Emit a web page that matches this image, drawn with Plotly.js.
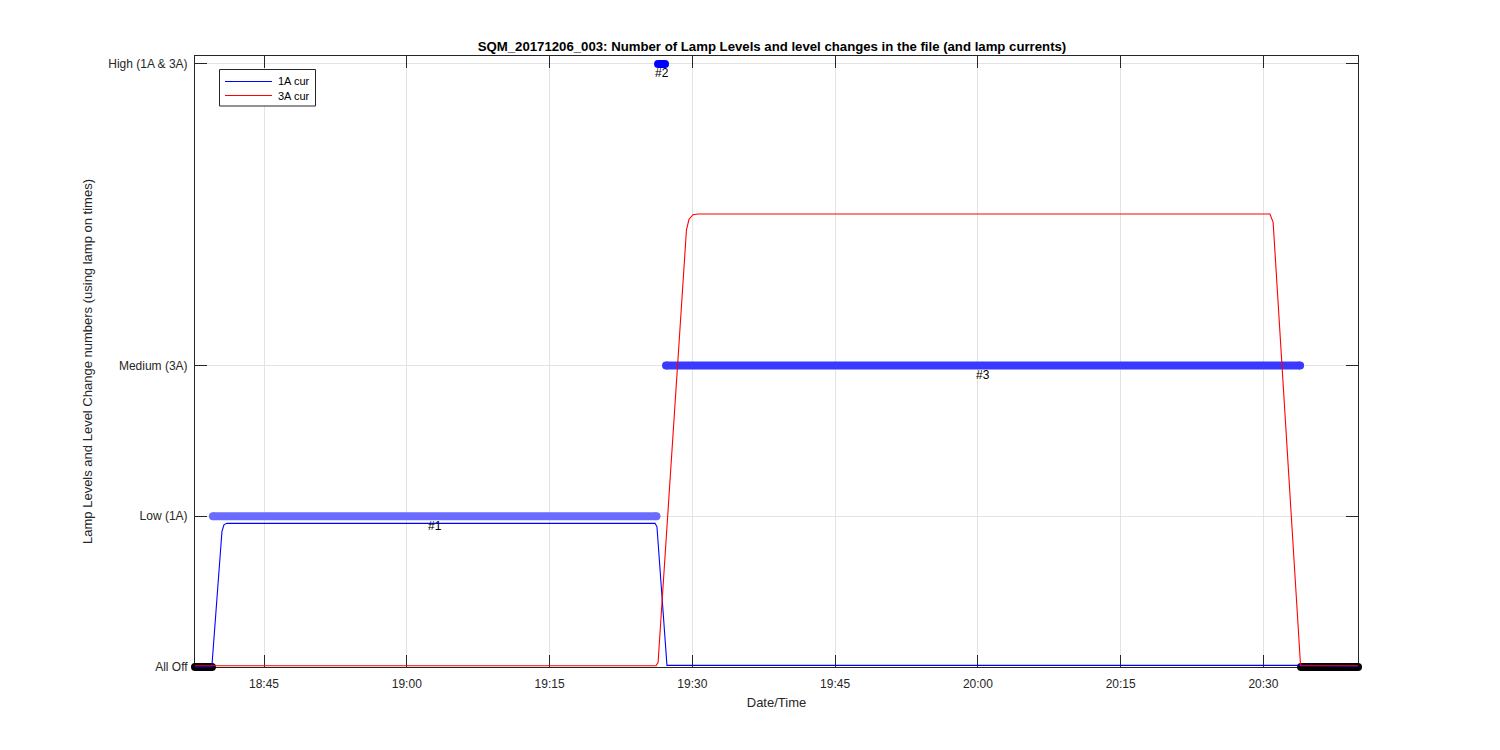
<!DOCTYPE html>
<html>
<head>
<meta charset="utf-8">
<script src="https://cdn.plot.ly/plotly-3.0.1.min.js"></script>
<style>html,body{margin:0;padding:0;background:#fff;}#chart{width:1500px;height:750px;}</style>
</head>
<body>
<div id="chart"></div>
<script>
const day = '2017-12-06 ';
const levelValues = [0, 1, 2, 4];
const levelNames = ['All Off', 'Low (1A)', 'Medium (3A)', 'High (1A & 3A)'];
const xTickTimes = ['18:45','19:00','19:15','19:30','19:45','20:00','20:15','20:30'];

// lamp level segments (from lamp on times)
const segStart = ['18:37:45','18:39:38','19:26:24','19:27:14','20:33:57'];
const segEnd   = ['18:39:32','19:26:14','19:27:08','20:33:51','20:39:56'];
const segLevel = [0, 1, 4, 2, 0];
const segLabel = ['', '#1', '#2', '#3', ''];

// lamp currents
const cur1Times = ['18:37:45','18:39:31','18:40:35','18:40:48','18:41:07','19:26:05','19:26:17','19:27:20','20:33:54','20:39:56'];
const cur1Vals  = [0.0, 0.0, 0.90, 0.945, 0.953, 0.953, 0.93, 0.011, 0.011, 0.006];
const cur3Times = ['18:37:45','19:26:11','19:26:24','19:29:23','19:29:39','19:30:04','19:30:36','20:30:41','20:31:01','20:33:54','20:39:56'];
const cur3Vals  = [0.008, 0.008, 0.03, 2.9, 2.97, 3.0, 3.005, 3.005, 2.95, 0.008, 0.008];
const curNames  = ['1A cur', '3A cur'];

const xRange = ['18:37:45', '20:39:56'];
const yRange = [0, 4.053];

// ---- styling / geometry ----
const segColors = ['#000000', '#6b6bff', '#0000ff', '#3a3aff', '#000000'];
const curColors = ['#0000ff', '#ff0000'];
const font = 'Liberation Sans, Arial, Helvetica, sans-serif';
const W = 1500, H = 750;
const M = {l: 185, r: 132, t: 46, b: 73};   // paper area (10px bigger than axes box on each side)
const PAD = 10;
const pw = W - M.l - M.r, ph = H - M.t - M.b;
const axW = pw - 2 * PAD, axH = ph - 2 * PAD;

const toT = t => day + t;
const ms = s => new Date(s.replace(' ', 'T')).getTime();
const pad2 = n => String(n).padStart(2, '0');
const fmt = d => d.getFullYear() + '-' + pad2(d.getMonth() + 1) + '-' + pad2(d.getDate()) + ' ' +
  pad2(d.getHours()) + ':' + pad2(d.getMinutes()) + ':' + pad2(d.getSeconds()) + '.' + String(d.getMilliseconds()).padStart(3, '0');

const t0 = ms(toT(xRange[0])), t1 = ms(toT(xRange[1]));
const mpp = (t1 - t0) / axW;
const upp = (yRange[1] - yRange[0]) / axH;
const x2Range = [fmt(new Date(t0 - PAD * mpp)), fmt(new Date(t1 + PAD * mpp))];
const y2Range = [yRange[0] - PAD * upp, yRange[1] + PAD * upp];

const px2x = px => (px - M.l) / pw;
const py2y = py => (H - M.b - py) / ph;

const traces = [];
// empty trace so the main (visible) axes own a subplot
traces.push({x: [], y: [], xaxis: 'x', yaxis: 'y', mode: 'lines', showlegend: false});

segLevel.forEach((lv, i) => {
  traces.push({
    x: [toT(segStart[i]), toT(segEnd[i])],
    y: [lv, lv],
    xaxis: 'x2', yaxis: 'y2',
    mode: 'lines+markers',
    line: {color: segColors[i], width: 8},
    marker: {color: segColors[i], size: 8, symbol: 'circle'},
    cliponaxis: false, showlegend: false, hoverinfo: 'skip'
  });
});
[[cur1Times, cur1Vals], [cur3Times, cur3Vals]].forEach(([tt, vv], k) => {
  traces.push({
    x: tt.map(toT), y: vv, xaxis: 'x2', yaxis: 'y2', mode: 'lines', name: curNames[k],
    line: {color: curColors[k], width: 1.1}, showlegend: false
  });
});

// labels at the middle of each level segment
const annotations = [];
segLevel.forEach((lv, i) => {
  if (!segLabel[i]) return;
  const m = new Date((ms(toT(segStart[i])) + ms(toT(segEnd[i]))) / 2);
  annotations.push({
    x: fmt(m), y: lv, xref: 'x2', yref: 'y2', text: segLabel[i], showarrow: false,
    xanchor: 'center', yanchor: 'middle', yshift: -9.5,
    font: {family: font, size: 12, color: '#000'}
  });
});

// MATLAB-style legend box
const shapes = [{
  type: 'rect', xref: 'paper', yref: 'paper',
  x0: px2x(219.5), x1: px2x(315.5), y0: py2y(106), y1: py2y(69.5),
  line: {color: '#262626', width: 1}, fillcolor: '#ffffff', layer: 'above'
}];
const legRows = [81.5, 95.5];
curNames.forEach((nm, k) => {
  shapes.push({
    type: 'line', xref: 'paper', yref: 'paper',
    x0: px2x(225), x1: px2x(272), y0: py2y(legRows[k]), y1: py2y(legRows[k]),
    line: {color: curColors[k], width: 1.1}, layer: 'above'
  });
  annotations.push({
    x: px2x(276), y: py2y(legRows[k]), xref: 'paper', yref: 'paper', text: nm, showarrow: false,
    xanchor: 'left', yanchor: 'middle', font: {family: font, size: 11, color: '#000'}
  });
});

const axCommon = {
  ticks: 'inside', ticklen: 12, tickwidth: 1, tickcolor: '#262626',
  showline: true, linecolor: '#262626', linewidth: 1, mirror: 'ticks',
  showgrid: true, gridcolor: '#e3e3e3', gridwidth: 1, zeroline: false,
  tickfont: {family: font, size: 12, color: '#262626'}
};

const layout = {
  width: W, height: H,
  margin: {l: M.l, r: M.r, t: M.t, b: M.b, pad: 0},
  paper_bgcolor: '#fff', plot_bgcolor: 'rgba(0,0,0,0)',
  font: {family: font, size: 12, color: '#262626'},
  showlegend: false,
  title: {
    text: '<b>SQM_20171206_003: Number of Lamp Levels and level changes in the file (and lamp currents)</b>',
    font: {family: font, size: 13.2, color: '#000'},
    x: px2x(772), xref: 'paper', xanchor: 'center', y: 1 - 46 / 750, yref: 'container', yanchor: 'middle'
  },
  xaxis: Object.assign({}, axCommon, {
    type: 'date', domain: [PAD / pw, 1 - PAD / pw], anchor: 'y',
    range: xRange.map(toT),
    tickvals: xTickTimes.map(toT), ticktext: xTickTimes,
    ticklabelstandoff: 6,
    title: {text: 'Date/Time', font: {family: font, size: 13, color: '#262626'}, standoff: 7}
  }),
  yaxis: Object.assign({}, axCommon, {
    domain: [PAD / ph, 1 - PAD / ph], anchor: 'x',
    range: yRange, tickvals: levelValues, ticktext: levelNames,
    ticklabelstandoff: 4,
    title: {text: 'Lamp Levels and Level Change numbers (using lamp on times)', font: {family: font, size: 13, color: '#262626'}, standoff: 12}
  }),
  xaxis2: {type: 'date', domain: [0, 1], anchor: 'y2', range: x2Range, visible: false, showgrid: false, zeroline: false},
  yaxis2: {domain: [0, 1], anchor: 'x2', range: y2Range, visible: false, showgrid: false, zeroline: false},
  shapes: shapes,
  annotations: annotations
};

Plotly.newPlot('chart', traces, layout, {displayModeBar: false, staticPlot: true});
</script>
</body>
</html>
